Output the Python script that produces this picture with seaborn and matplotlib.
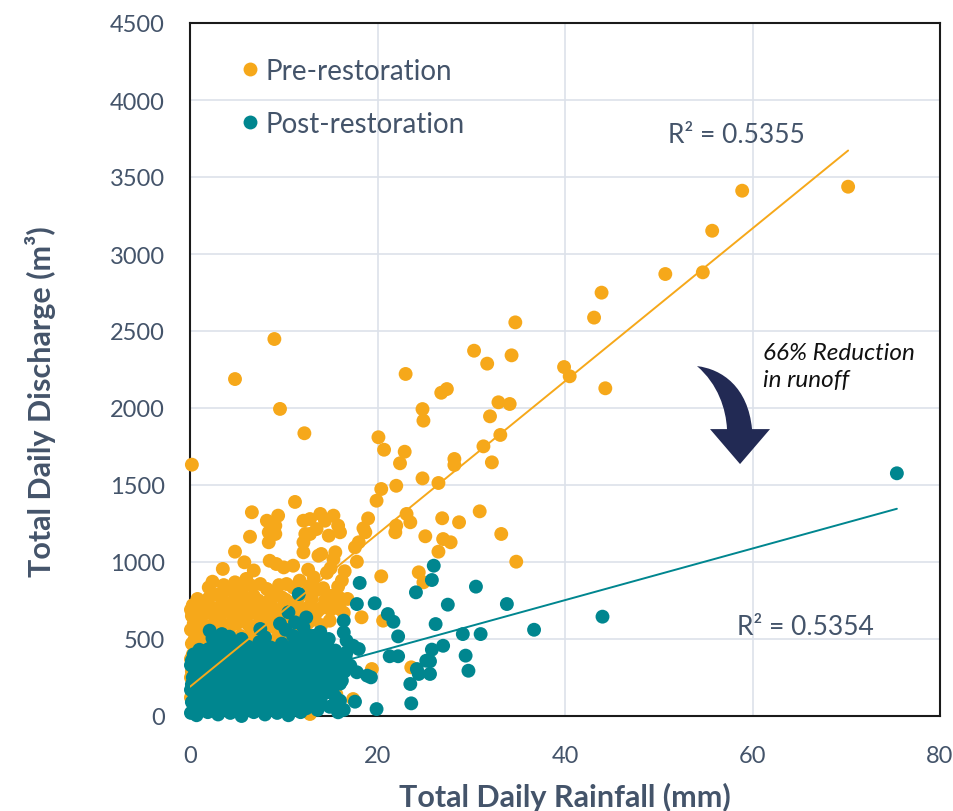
import numpy as np
import pandas as pd
import matplotlib
matplotlib.use("Agg")
import matplotlib.pyplot as plt
from matplotlib.path import Path
from matplotlib.patches import PathPatch
import seaborn as sns

# ---- data -----------------------------------------------------------------
pre_rain = [
    0.2, 4.8, 9.0, 9.6, 12.2, 11.2, 23.0, 70.2, 58.9, 55.7, 54.7, 50.7, 43.9, 43.1,
    34.7, 30.3, 31.7, 34.3, 39.9, 40.5, 44.3, 26.8, 27.4, 24.8, 24.9, 32.9, 34.1, 32.0,
    33.1, 31.3, 28.2, 28.2, 32.2, 24.8, 26.5, 30.9, 26.9, 28.7, 33.2, 27.8, 26.5, 34.8,
    27.0, 25.1, 20.1, 20.7, 22.9, 22.4, 22.0, 20.4, 19.9, 13.9, 15.3, 14.4, 15.8, 16.0,
    14.8, 13.5, 19.0, 18.5, 18.7, 18.0, 17.6, 14.0, 15.5, 15.3, 17.8, 23.1, 23.5, 22.0,
    21.9, 6.6, 9.4, 8.2, 9.1, 8.4, 9.1, 8.4, 6.4, 12.1, 12.8, 12.3, 12.8, 12.1, 12.1,
    4.8, 5.8, 8.5, 9.2, 11.0, 13.7, 20.4, 24.4, 24.9, 16.0, 18.3, 14.9, 20.6, 23.6,
    19.4, 15.6, 17.4, 12.8, 2.4,
    3.5, 6.8, 10.0, 12.6, 15.0, 16.5,
    4.8, 6.0, 7.5, 10.3, 11.7, 13.2, 14.6, 16.2,
    2.0, 3.6, 5.2, 6.6, 8.2, 9.5, 11.0, 12.8, 14.2, 15.8,
    3.0, 4.2, 5.5, 6.8, 8.9, 9.8, 12.4, 13.6, 15.0, 16.8,
    0.8, 2.0, 3.4, 4.8, 6.0, 7.3, 8.6, 10.2, 11.6, 13.0, 14.4, 16.0,
    0.3, 1.2, 2.5, 3.8, 5.0, 6.2, 7.4, 8.6, 9.9, 11.2, 12.8, 14.0, 15.5,
    0.1, 1.0, 2.2, 3.5, 4.8, 6.0, 7.2, 8.4, 9.6, 10.9, 12.2, 13.6, 15.0, 16.4,
    0.2, 1.0, 2.0, 3.2, 4.5, 5.6, 6.8, 8.0, 9.3, 10.6, 12.0, 13.3,
    0.4, 1.4, 2.6, 3.8, 5.0, 6.2, 7.4, 8.7, 10.0, 11.3, 12.6, 14.0,
    0.1, 0.8, 1.8, 3.0, 4.2, 5.4, 6.6, 7.8, 9.0, 10.4, 11.8,
    0.5, 1.4, 2.6, 3.9, 5.2, 6.6, 7.9, 9.3, 10.8, 12.0,
    0.2, 0.9, 2.2, 3.6, 5.0, 6.4, 8.0, 9.6,
    0.3, 1.2, 2.5, 4.0, 5.6,
    0.1, 0.6, 1.6, 3.0, 4.8, 7.0,
    0.2, 1.0,
    0.1, 0.5, 1.2,
    0.1, 0.4,
]
pre_discharge = [
    1632, 2188, 2448, 1994, 1836, 1390, 2221, 3437, 3411, 3151, 2881, 2870, 2749, 2587,
    2556, 2372, 2288, 2342, 2266, 2206, 2128, 2099, 2123, 1993, 1918, 2037, 2026, 1946,
    1825, 1751, 1669, 1630, 1647, 1543, 1513, 1329, 1284, 1258, 1182, 1128, 1067, 1002,
    1149, 1167, 1810, 1729, 1716, 1641, 1495, 1474, 1398, 1312, 1301, 1268, 1236, 1193,
    1171, 1214, 1283, 1219, 1193, 1128, 1095, 1052, 1063, 1019, 1002, 1312, 1258, 1236,
    1193, 1323, 1301, 1268, 1236, 1193, 1182, 1128, 1164, 1268, 1279, 1182, 1182, 1128, 1063,
    1067, 998, 1008, 987, 976, 1041, 907, 933, 868, 695, 641, 619, 619, 316,
    305, 143, 110, 13, 872,
    955, 945, 965, 950, 960, 940,
    868, 890, 857, 857, 879, 900, 930, 880,
    835, 850, 830, 845, 825, 850, 835, 845, 830, 840,
    790, 820, 800, 780, 803, 770, 803, 820, 780, 760,
    760, 765, 755, 770, 760, 750, 765, 755, 770, 760, 750, 765,
    720, 740, 700, 735, 710, 745, 700, 730, 705, 740, 715, 700, 720,
    690, 685, 695, 680, 690, 685, 695, 680, 690, 685, 695, 680, 690, 670,
    650, 620, 670, 640, 660, 630, 670, 640, 660, 625, 650, 630,
    600, 595, 605, 590, 600, 595, 605, 590, 600, 595, 605, 590,
    560, 530, 580, 545, 570, 520, 560, 540, 575, 520, 550,
    500, 505, 495, 500, 505, 495, 500, 505, 495, 500,
    470, 430, 480, 440, 460, 420, 470, 440,
    400, 395, 405, 400, 395,
    370, 320, 350, 300, 340, 360,
    290, 280,
    250, 190, 230,
    120, 60,
]

post_rain = [
    75.4, 44.0, 36.7, 33.8, 30.5, 31.0, 29.1, 29.4, 29.7, 27.5, 26.0, 25.8, 26.2, 27.0,
    25.8, 25.6, 25.6, 24.1, 22.2, 21.1, 21.7, 18.1, 17.8, 19.7, 16.4, 16.4, 16.7, 17.4,
    18.0, 13.5, 25.2, 24.2, 24.4, 23.5, 21.3, 22.2, 18.9, 19.3, 17.8, 23.6, 19.9, 15.8,
    16.0, 17.6, 14.2, 13.5,
    2.1, 3.4, 3.6, 2.8, 11.6, 7.5, 10.5, 11.2, 12.1, 1.2, 0.5,
    13.9, 13.2, 14.6, 16.7, 17.1,
    10.2, 11.0, 12.4, 12.8, 9.6, 13.9,
    2.4, 4.2, 5.5, 8.0, 11.8, 13.2, 14.8,
    5.0, 6.2, 7.4, 8.6, 9.8, 11.0, 12.2, 13.4, 14.6,
    1.0, 2.0, 3.0, 4.3, 5.6, 6.9, 8.1, 9.3, 10.5, 11.7, 13.0, 14.2, 15.5,
    0.4, 1.6, 2.9, 4.1, 5.3, 6.6, 7.9, 9.1, 10.4, 11.6, 12.9, 14.1, 15.4, 16.6,
    0.2, 1.1, 2.3, 3.5, 4.8, 6.0, 7.3, 8.5, 9.8, 11.0, 12.3, 13.5, 14.8, 16.0,
    0.1, 0.9, 2.0, 3.2, 4.5, 5.8, 7.0, 8.3, 9.5, 10.8, 12.0, 13.3, 14.5, 15.8,
    0.6, 1.6, 2.8, 4.0, 5.3, 6.5, 7.8, 9.0, 10.3, 11.5, 12.8, 14.0, 15.3, 16.5,
    0.3, 1.3, 2.5, 3.7, 5.0, 6.2, 7.5, 8.7, 10.0, 11.2, 12.5, 13.7, 15.0, 16.2,
    0.2, 1.0, 2.2, 3.4, 4.7, 5.9, 7.2, 8.4, 9.7, 10.9, 12.2, 13.4, 14.7, 16.0,
    0.1, 0.8, 2.0, 3.1, 4.4, 5.6, 6.9, 8.1, 9.4, 10.6, 11.9, 13.1, 15.2,
    0.5, 1.5, 2.7, 3.9, 5.2, 6.4, 7.7, 8.9, 10.2, 11.4, 12.7, 13.9, 15.5,
    0.2, 1.2, 2.4, 3.6, 4.9, 6.1, 7.4, 8.6, 9.9, 11.1, 12.4, 14.9, 16.4,
    0.4, 1.3, 2.5, 3.7, 4.9, 6.2, 7.4, 8.7, 9.9, 11.2, 12.4, 13.6,
    0.1, 0.7, 1.9, 3.0, 4.3, 5.5, 6.8, 8.0, 9.3, 10.5, 11.8,
]
post_discharge = [
    1576, 645, 560, 727, 840, 532, 532, 392, 294, 723, 976, 883, 597, 456,
    431, 355, 273, 803, 517, 662, 612, 864, 727, 732, 619, 543, 489, 456,
    435, 500, 359, 305, 273, 208, 388, 388, 262, 251, 284, 82, 45, 24,
    99, 93, 143, 78,
    554, 532, 456, 456, 792, 565, 673, 608, 576, 370, 305,
    110, 67, 154, 413, 327,
    560, 520, 640, 520, 600, 545,
    505, 515, 500, 510, 505, 520, 500,
    470, 450, 480, 445, 470, 455, 480, 450, 470,
    430, 435, 425, 430, 440, 425, 435, 430, 425, 440, 430, 435, 425,
    400, 420, 390, 410, 395, 420, 385, 410, 395, 420, 390, 410, 395, 380,
    360, 365, 355, 360, 365, 355, 360, 365, 355, 360, 365, 355, 360, 350,
    330, 310, 335, 315, 330, 305, 335, 315, 330, 310, 335, 315, 330, 305,
    285, 290, 280, 285, 290, 280, 285, 290, 280, 285, 290, 280, 285, 290,
    250, 230, 255, 235, 250, 225, 255, 235, 250, 225, 255, 235, 250, 230,
    205, 210, 200, 205, 210, 200, 205, 210, 200, 205, 210, 200, 205, 210,
    170, 150, 175, 155, 170, 145, 175, 155, 170, 150, 175, 155, 180,
    125, 130, 120, 125, 130, 120, 125, 130, 120, 125, 130, 120, 125,
    90, 70, 95, 75, 90, 65, 95, 75, 90, 65, 95, 60, 40,
    45, 50, 40, 45, 50, 40, 45, 50, 40, 45, 50, 40,
    20, 5, 25, 10, 20, 0, 25, 10, 20, 5, 25,
]

# linear trendlines: slope, intercept, fitted range, R²
pre_fit = dict(slope=49.6, intercept=190, x_min=0.0, x_max=70.2, r2="0.5355")
post_fit = dict(slope=16.76, intercept=82, x_min=0.0, x_max=75.4, r2="0.5354")

x_ticks = [0, 20, 40, 60, 80]
y_ticks = [0, 500, 1000, 1500, 2000, 2500, 3000, 3500, 4000, 4500]

periods = ["Pre-restoration", "Post-restoration"]
colors = {"Pre-restoration": "#F6A81A", "Post-restoration": "#00868F"}
text_color = "#44546A"

# ---- figure ---------------------------------------------------------------
sns.set_theme(style="white")
plt.rcParams["font.family"] = ["Lato", "DejaVu Sans"]

df = pd.DataFrame({
    "rain": pre_rain + post_rain,
    "discharge": pre_discharge + post_discharge,
    "period": [periods[0]] * len(pre_rain) + [periods[1]] * len(post_rain),
})

fig = plt.figure(figsize=(9.54, 8.12), dpi=100)
ax = fig.add_axes([190 / 954, 1 - 717 / 812, 750 / 954, 693 / 812])

sns.scatterplot(data=df, x="rain", y="discharge", hue="period", hue_order=periods,
                palette=colors, s=100, linewidth=0, alpha=1, ax=ax, zorder=3,
                clip_on=False)

for fit, period in ((pre_fit, periods[0]), (post_fit, periods[1])):
    xs = np.array([fit["x_min"], fit["x_max"]])
    sns.lineplot(x=xs, y=fit["intercept"] + fit["slope"] * xs, color=colors[period],
                 lw=1.4, ax=ax, zorder=4)

ax.set_xlim(0, 80)
ax.set_ylim(0, 4500)
ax.set_xticks(x_ticks)
ax.set_yticks(y_ticks)
ax.set_xticklabels([str(t) for t in x_ticks])
ax.set_yticklabels([str(t) for t in y_ticks])
ax.tick_params(length=0, labelsize=17, labelcolor=text_color, pad=18)
ax.tick_params(axis="x", pad=21)

ax.grid(True, color="#DDE2EA", lw=1.2)
ax.set_axisbelow(True)
for sp in ax.spines.values():
    sp.set_color("#1a1a1a")
    sp.set_linewidth(1.5)
    sp.set_zorder(2)

ax.set_xlabel("Total Daily Rainfall (mm)", fontsize=22, fontweight="bold", color=text_color)
ax.set_ylabel("Total Daily Discharge (m³)", fontsize=22, fontweight="bold", color=text_color)
ax.xaxis.set_label_coords(0.5, -0.095)
ax.yaxis.set_label_coords(-0.178, 0.455)

leg = ax.legend(loc="upper left", bbox_to_anchor=(0.051, 0.966), frameon=False,
                fontsize=20, labelspacing=0.98, handlelength=0.8, handletextpad=0.15,
                labelcolor=text_color, borderaxespad=0)

ax.text(58.3, 3779, f"R² = {pre_fit['r2']}", fontsize=19, color=text_color,
        ha="center", va="center")
ax.text(65.6, 584, f"R² = {post_fit['r2']}", fontsize=19, color=text_color,
        ha="center", va="center")
ax.text(61.1, 2273, "66% Reduction\nin runoff", fontsize=17.5, style="italic",
        color="#111111", ha="left", va="center", linespacing=1.35)

# curved block arrow between the two trendlines
arrow_verts = [
    (54.08, 2272), (56.75, 2253), (59.52, 2136), (59.95, 1863),
    (61.87, 1863), (58.67, 1636), (55.47, 1863), (57.28, 1863),
    (57.17, 1993), (56.32, 2155), (54.08, 2272), (54.08, 2272),
]
arrow_codes = [
    Path.MOVETO, Path.CURVE4, Path.CURVE4, Path.CURVE4,
    Path.LINETO, Path.LINETO, Path.LINETO, Path.LINETO,
    Path.CURVE4, Path.CURVE4, Path.CURVE4, Path.CLOSEPOLY,
]
ax.add_patch(PathPatch(Path(arrow_verts, arrow_codes), facecolor="#222A54",
                       edgecolor="none", zorder=5))

fig.savefig("out.png", dpi=100)
